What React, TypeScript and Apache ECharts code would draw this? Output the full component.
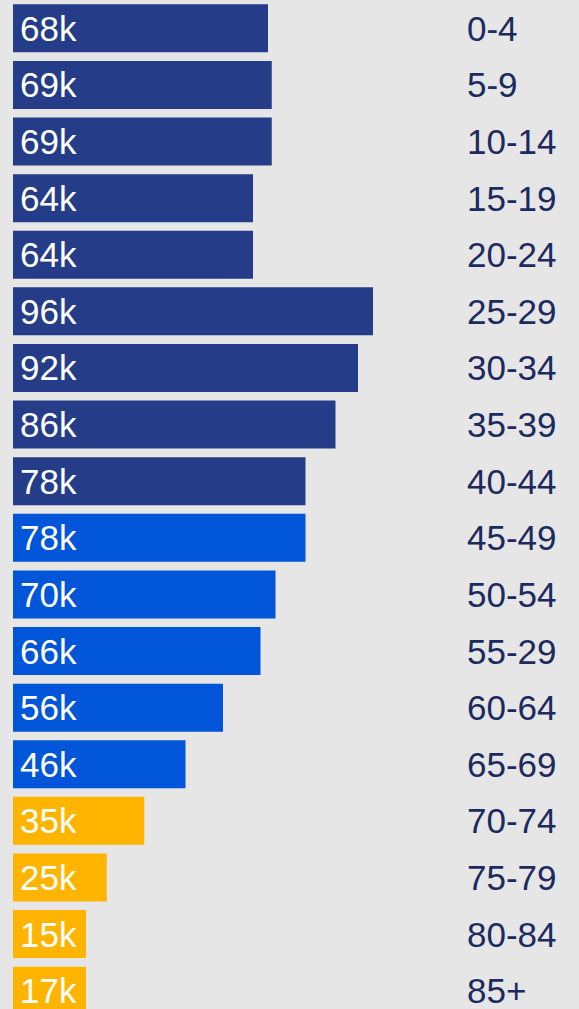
import React, { useEffect, useRef } from "react";
import * as echarts from "echarts";

const categories = ["0-4", "5-9", "10-14", "15-19", "20-24", "25-29", "30-34", "35-39", "40-44", "45-49", "50-54", "55-29", "60-64", "65-69", "70-74", "75-79", "80-84", "85+"];
const values = [68, 69, 69, 64, 64, 96, 92, 86, 78, 78, 70, 66, 56, 46, 35, 25, 15, 17];
const groupColors = ["#253d88", "#0055d8", "#ffb500"];
const groupOf = [0, 0, 0, 0, 0, 0, 0, 0, 0, 1, 1, 1, 1, 1, 2, 2, 2, 2];

export default function App() {
  const ref = useRef<HTMLDivElement>(null);
  useEffect(() => {
    if (!ref.current) return;
    const chart = echarts.init(ref.current, null, { renderer: "svg" });
    chart.setOption({
      animation: false,
      backgroundColor: "#e6e6e6",
      grid: { left: 13, right: 191, top: 0, height: 1019, outerBoundsMode: "none", containLabel: false },
      xAxis: { type: "value", min: 0, max: 100, show: false },
      yAxis: {
        type: "category",
        data: categories,
        inverse: true,
        position: "right",
        axisLine: { show: false },
        axisTick: { show: false },
        axisLabel: {
          align: "left",
          margin: 79,
          color: "#1d2a5f",
          fontSize: 35,
          fontFamily: "Liberation Sans",
        },
      },
      series: [
        {
          type: "bar",
          barWidth: 48,
          barMinHeight: 73,
          data: values.map((v, i) => ({ value: v, itemStyle: { color: groupColors[groupOf[i]] } })),
          label: {
            show: true,
            position: "insideLeft",
            distance: 7,
            formatter: "{c}k",
            color: "#ffffff",
            fontSize: 35,
            fontFamily: "Liberation Sans",
          },
        },
      ],
    });
    return () => chart.dispose();
  }, []);
  return <div ref={ref} style={{ position: "fixed", left: 0, top: 0, width: 579, height: 1009 }} />;
}
